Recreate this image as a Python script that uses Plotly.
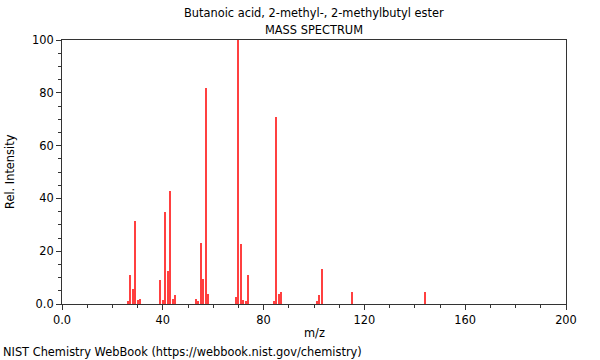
import plotly.graph_objects as go

mz = [26, 27, 28, 29, 30, 31, 39, 40, 41, 42, 43, 44, 45, 53, 54, 55, 56, 57, 58,
      69, 70, 71, 72, 73, 74, 84, 85, 86, 87, 101, 102, 103, 115, 144]
intensity = [1.2, 11, 5.8, 31.4, 1.5, 1.8, 9.1, 1.5, 35, 12.5, 42.9, 2, 3.4, 1.8, 1.2, 23, 9.5, 82, 3.8,
             2.5, 100, 22.6, 1.4, 1.1, 11, 1.0, 70.7, 3.8, 4.7, 1.1, 3.4, 13.4, 4.4, 4.4]

x_ticks = [0, 40, 80, 120, 160, 200]
x_ticktext = ["0.0", "40", "80", "120", "160", "200"]
y_ticks = [0, 20, 40, 60, 80, 100]
y_ticktext = ["0.0", "20", "40", "60", "80", "100"]

title_line1 = "Butanoic acid, 2-methyl-, 2-methylbutyl ester"
title_line2 = "MASS SPECTRUM"
x_title = "m/z"
y_title = "Rel. Intensity"
footer = "NIST Chemistry WebBook (https://webbook.nist.gov/chemistry)"

font = dict(family="DejaVu Sans", size=11.4, color="#000")

fig = go.Figure(go.Bar(x=mz, y=intensity, width=0.4,
                       marker=dict(color="#ff4040", line=dict(width=0))))

axis_common = dict(showgrid=False, zeroline=False, showline=True, linecolor="#333",
                   linewidth=1, mirror=True, ticks="outside", ticklen=5, tickcolor="#333",
                   tickfont=font)

fig.update_layout(
    width=600, height=360,
    margin=dict(l=62, r=34, t=40, b=56),
    paper_bgcolor="white", plot_bgcolor="white",
    showlegend=False, bargap=0,
    font=font,
    xaxis=dict(range=[0, 200], tickvals=x_ticks, ticktext=x_ticktext,
               minor=dict(dtick=10, tick0=0, ticklen=3, ticks="outside", tickcolor="#333"),
               **axis_common),
    yaxis=dict(range=[0, 100], tickvals=y_ticks, ticktext=y_ticktext,
               minor=dict(dtick=5, tick0=0, ticklen=3, ticks="outside", tickcolor="#333"),
               **axis_common),
    annotations=[
        dict(text=title_line1, xref="paper", yref="paper", x=0.5, y=1, yanchor="middle",
             yshift=27, showarrow=False, font=font),
        dict(text=title_line2, xref="paper", yref="paper", x=0.5, y=1, yanchor="middle",
             yshift=10, showarrow=False, font=font),
        dict(text=x_title, xref="paper", yref="paper", x=0.5, y=0, yanchor="middle",
             yshift=-29, showarrow=False, font=font),
        dict(text=y_title, xref="paper", yref="paper", x=0, y=0.5, xanchor="center",
             xshift=-52, textangle=-90, showarrow=False, font=font),
        dict(text=footer, xref="paper", yref="paper", x=0, y=0, xanchor="left",
             yanchor="middle", xshift=-61, yshift=-48, showarrow=False, font=font),
    ],
)

fig.write_html("out.html", config={"displayModeBar": False},
               post_script="document.body.style.margin='0';document.body.style.overflow='hidden';")
